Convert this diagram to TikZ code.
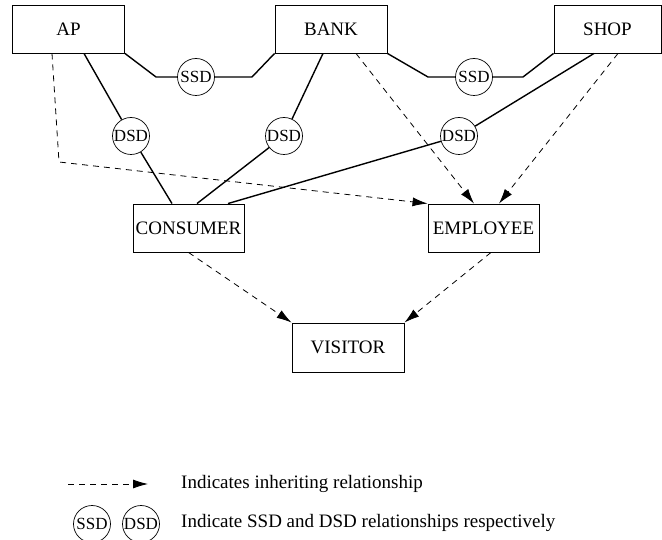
\documentclass[tikz,border=0pt]{standalone}
\usepackage{fontspec}
\setmainfont{Liberation Serif}
\usetikzlibrary{arrows.meta}

\begin{document}
\begin{tikzpicture}[x=1pt,y=-1pt,
box/.style={draw,rectangle,line width=0.9pt,minimum width=112pt,minimum height=48pt,inner sep=0pt,font=\fontsize{19}{22}\selectfont},
rel/.style={draw,circle,line width=0.7pt,minimum size=37pt,inner sep=0pt,font=\fontsize{17}{20}\selectfont},
inh/.style={line width=0.8pt,dash pattern=on 6pt off 5pt,-{Latex[length=15pt,width=9pt]}},
sol/.style={line width=1.4pt},
lgd/.style={anchor=west,inner sep=0pt,font=\fontsize{19}{22}\selectfont}]
\useasboundingbox (0,0) rectangle (662,540);
\node[box] (ap) at (68.5,29) {AP};
\node[box] (bank) at (331,29) {BANK};
\node[box,minimum width=107pt] (shop) at (607.5,29) {SHOP};
\node[box,minimum width=111pt] (cons) at (188.5,228) {CONSUMER};
\node[box,minimum width=111pt] (empl) at (483.5,228) {EMPLOYEE};
\node[box,minimum height=49pt] (vis) at (348,347.5) {VISITOR};
\node[rel] (ssdA) at (196,77) {SSD};
\node[rel] (ssdB) at (474,77) {SSD};
\node[rel] (dsdA) at (131,136) {DSD};
\node[rel] (dsdB) at (284,136) {DSD};
\node[rel] (dsdC) at (459,136) {DSD};
\coordinate (kA) at (156,77);
\coordinate (kB) at (252,77);
\coordinate (kC) at (428,77);
\coordinate (kD) at (523,77);
\coordinate (kE) at (59,162);
\draw[sol] (ap.south east) -- (kA) -- (ssdA) -- (kB) -- (bank.south west);
\draw[sol] (bank.south east) -- (kC) -- (ssdB) -- (kD) -- (shop.south west);
\draw[sol] ([xshift=15.5pt]ap.south) -- (dsdA) -- ([xshift=-16.5pt]cons.north);
\draw[sol] ([xshift=-8pt]bank.south) -- (dsdB) -- ([xshift=8.5pt]cons.north);
\draw[sol] ([xshift=-13.5pt]shop.south) -- (dsdC) -- ([xshift=39.5pt]cons.north);
\draw[inh] ([xshift=-16.5pt]ap.south) -- (kE) -- (empl.north west);
\draw[inh] ([xshift=25pt]bank.south) -- ([xshift=-9.5pt]empl.north);
\draw[inh] ([xshift=10.5pt]shop.south) -- ([xshift=15.5pt]empl.north);
\draw[inh] (cons.south) -- (vis.north west);
\draw[inh] ([xshift=7.5pt]empl.south) -- (vis.north east);
\coordinate (lgA) at (68,484);
\node[lgd] (txA) at (181,484) {Indicates inheriting relationship};
\draw[inh] (lgA) -- ([xshift=-33pt]txA.west);
\node[rel] (lgS) at (92,524) {SSD};
\node[rel] (lgD) at (141,524) {DSD};
\node[lgd] (txB) at (181,523) {Indicate SSD and DSD relationships respectively};
\end{tikzpicture}
\end{document}
